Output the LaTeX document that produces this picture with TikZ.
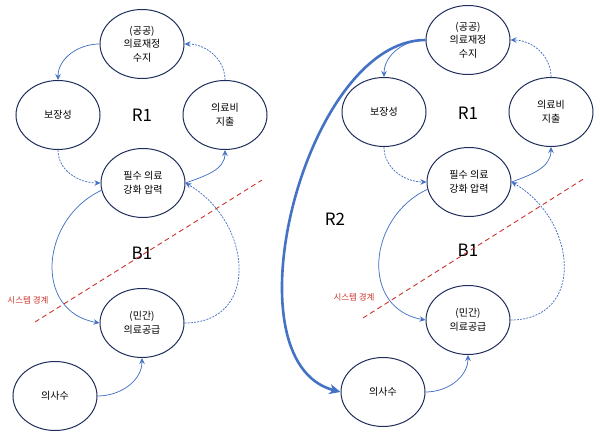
\documentclass[tikz,border=0pt]{standalone}
\usepackage{fontspec}
\setmainfont{Noto Sans CJK KR}
\usetikzlibrary{arrows.meta, shapes.geometric}
\definecolor{cNavy}{HTML}{1F2D5A}
\definecolor{cBlue}{HTML}{4472C4}
\definecolor{cRed}{HTML}{C8332B}
\tikzset{
  cnode/.style={draw=cNavy, ellipse, line width=1pt, minimum width=84pt,
                minimum height=69pt, inner sep=1pt, align=center,
                font=\fontsize{10}{13.5}\selectfont},
  cedge/.style={cBlue, line width=0.75pt, -{Stealth[length=6pt, width=5.5pt, inset=2pt]}},
  cdash/.style={cedge, dash pattern=on 2pt off 1.2pt},
  cbig/.style={cBlue, line width=2.6pt, -{Stealth[length=11pt, width=10pt, inset=3pt]}},
  cloop/.style={font=\fontsize{17}{17}\selectfont},
  sysline/.style={cRed, line width=0.9pt, dash pattern=on 5pt off 3.5pt},
  syslabel/.style={cRed, font=\fontsize{8.5}{10}\selectfont},
}
\begin{document}
\begin{tikzpicture}[x=20pt, y=20pt]
    \useasboundingbox (0,0) rectangle (30,-21.9);
    \node[cnode] (fin) at (7.1,-2.2)   {(공공)\\의료재정\\수지};
    \node[cnode] (cov) at (2.9,-5.75)  {보장성};
    \node[cnode] (exp) at (11.25,-5.75) {의료비\\지출};
    \node[cnode] (ess) at (7.15,-9.15) {필수 의료\\강화 압력};
    \node[cnode] (prv) at (7.1,-16.15) {(민간)\\의료공급};
    \node[cnode] (doc) at (2.75,-19.8) {의사수};
    \node[cloop] (r1) at (7.1,-5.75)  {R1};
    \node[cloop] (b1) at (7.1,-12.65) {B1};
    \draw[cedge] (fin.west) to[out=180, in=90] (cov.north);
    \draw[cdash] (cov.south) to[out=-90, in=180] (ess.west);
    \draw[cedge] (ess.east) to[out=20, in=-90] (exp.south);
    \draw[cdash] (exp.north) to[out=90, in=0] (fin.east);
    \draw[cedge] (ess.190) to[out=205, in=170, looseness=1.3] (prv.west);
    \draw[cdash] (prv.east) to[out=0, in=-30, looseness=1.4] (ess.east);
    \draw[cedge] (doc.east) to[out=0, in=-90] (prv.south);
    \coordinate (bdA) at (1.75,-16.1);
    \coordinate (bdB) at (13.1,-9.0);
    \draw[sysline] (bdA) -- (bdB);
    \node[syslabel] (bdl) at (1.4,-15.0) {시스템 경계};

    \node[cnode] (rfin) at (23.4,-2.0)   {(공공)\\의료재정\\수지};
    \node[cnode] (rcov) at (19.2,-5.6)   {보장성};
    \node[cnode] (rexp) at (27.55,-5.6)  {의료비\\지출};
    \node[cnode] (ress) at (23.45,-9.1)  {필수 의료\\강화 압력};
    \node[cnode] (rprv) at (23.4,-16.0)  {(민간)\\의료공급};
    \node[cnode] (rdoc) at (19.15,-19.6) {의사수};
    \node[cloop] (rr1) at (23.4,-5.65)  {R1};
    \node[cloop] (rr2) at (16.75,-10.95) {R2};
    \node[cloop] (rb1) at (23.4,-12.5)  {B1};
    \draw[cbig]  (rfin.west) to[out=180, in=165, looseness=0.85] (rdoc.west);
    \draw[cedge] (rfin.west) to[out=180, in=90] (rcov.north);
    \draw[cdash] (rcov.south) to[out=-90, in=180] (ress.west);
    \draw[cedge] (ress.east) to[out=20, in=-90] (rexp.south);
    \draw[cdash] (rexp.north) to[out=90, in=0] (rfin.east);
    \draw[cedge] (ress.190) to[out=205, in=170, looseness=1.3] (rprv.west);
    \draw[cdash] (rprv.east) to[out=0, in=-30, looseness=1.4] (ress.east);
    \draw[cedge] (rdoc.east) to[out=0, in=-90] (rprv.south);
    \coordinate (rbdA) at (18.15,-15.9);
    \coordinate (rbdB) at (29.25,-8.9);
    \draw[sysline] (rbdA) -- (rbdB);
    \node[syslabel] (rbdl) at (17.7,-14.85) {시스템 경계};
  \end{tikzpicture}
\end{document}
